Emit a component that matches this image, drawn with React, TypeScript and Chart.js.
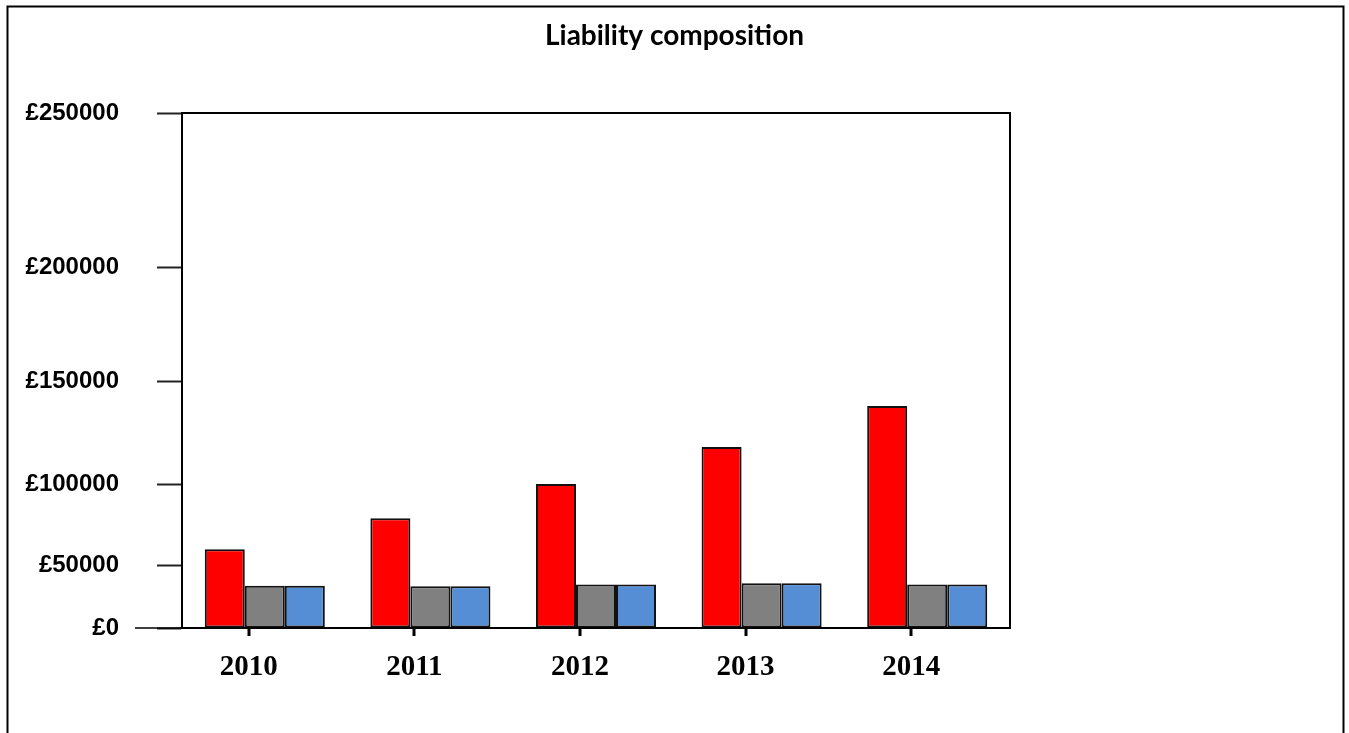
import { useEffect, useRef } from 'react';
import { Chart, registerables, LinearScale } from 'chart.js';

Chart.register(...registerables);

// ---- data ----
const years = ['2010', '2011', '2012', '2013', '2014'];
const redValues = [60000, 79000, 100000, 118000, 138000];
const greyValues = [34000, 33500, 35000, 36000, 35000];
const blueValues = [34000, 33500, 35000, 36000, 35000];
const yTickStep = 50000;
const yMax = 250000;

// The value axis is drawn with unevenly spaced gridlines: each [value, fraction]
// pair pins a value to a fraction of the plot height, linear in between.
const Y_AXIS_STOPS: [number, number][] = [
  [0, 0],
  [50000, 0.121],
  [100000, 0.2796],
  [150000, 0.4788],
  [200000, 0.7],
  [250000, 1],
];

class StretchedScale extends LinearScale {
  static id = 'stretched';
  static defaults = LinearScale.defaults;

  getPixelForValue(value: number) {
    const s = Y_AXIS_STOPS;
    let frac: number;
    if (value <= s[0][0]) {
      frac = s[0][1];
    } else if (value >= s[s.length - 1][0]) {
      frac = s[s.length - 1][1];
    } else {
      let i = 1;
      while (value > s[i][0]) i++;
      const [v0, f0] = s[i - 1];
      const [v1, f1] = s[i];
      frac = f0 + ((value - v0) / (v1 - v0)) * (f1 - f0);
    }
    return this.getPixelForDecimal(frac);
  }

  getValueForPixel(pixel: number) {
    const frac = this.getDecimalForPixel(pixel);
    const s = Y_AXIS_STOPS;
    for (let i = 1; i < s.length; i++) {
      if (frac <= s[i][1]) {
        const [v0, f0] = s[i - 1];
        const [v1, f1] = s[i];
        return v0 + ((frac - f0) / (f1 - f0)) * (v1 - v0);
      }
    }
    return s[s.length - 1][0];
  }
}
Chart.register(StretchedScale);

const X_LABEL_SHIFT = -16;

const framePlugin = {
  id: 'frame',
  beforeDraw(chart: any) {
    const { ctx, width, height } = chart;
    ctx.save();
    ctx.fillStyle = '#ffffff';
    ctx.fillRect(0, 0, width, height);
    ctx.restore();
  },
  afterDraw(chart: any) {
    const { ctx, chartArea, scales } = chart;
    const { left, right, top, bottom } = chartArea;
    ctx.save();
    ctx.strokeStyle = '#000';
    ctx.lineWidth = 2;
    // outer border
    ctx.strokeRect(7.5, 6.5, 1336, 760);
    // top and right edges of the plot box
    ctx.beginPath();
    ctx.moveTo(left, top);
    ctx.lineTo(right, top);
    ctx.lineTo(right, bottom);
    ctx.stroke();
    // baseline runs past the axis to the left
    ctx.lineWidth = 1.5;
    ctx.beginPath();
    ctx.moveTo(left - 47, bottom);
    ctx.lineTo(left, bottom);
    ctx.stroke();
    // small tick marks under each year label
    ctx.fillStyle = '#000';
    years.forEach((_, i) => {
      const x = scales.x.getPixelForValue(i) + X_LABEL_SHIFT;
      ctx.fillRect(Math.round(x) - 1.5, bottom, 3, 8);
    });
    ctx.restore();
  },
};

export default function App() {
  const canvasRef = useRef<HTMLCanvasElement | null>(null);

  useEffect(() => {
    const canvas = canvasRef.current;
    if (!canvas) return;
    const chart = new Chart(canvas, {
      type: 'bar',
      data: {
        labels: years,
        datasets: [
          {
            label: 'Red',
            data: redValues,
            backgroundColor: '#ff0000',
            borderColor: '#111',
            borderWidth: 2,
            borderSkipped: false,
          },
          {
            label: 'Grey',
            data: greyValues,
            backgroundColor: '#808080',
            borderColor: '#111',
            borderWidth: 2,
            borderSkipped: false,
          },
          {
            label: 'Blue',
            data: blueValues,
            backgroundColor: '#558ed5',
            borderColor: '#111',
            borderWidth: 2,
            borderSkipped: false,
          },
        ],
      },
      options: {
        responsive: false,
        animation: false,
        events: [],
        datasets: {
          bar: { categoryPercentage: 0.725, barPercentage: 1.0 },
        },
        layout: { padding: 0 },
        plugins: {
          legend: { display: false },
          tooltip: { enabled: false },
          title: {
            display: true,
            text: 'Liability composition',
            color: '#000',
            font: { family: 'Lato, "Open Sans", sans-serif', size: 28, weight: 'bold', lineHeight: 1.2 },
            padding: { top: 19, bottom: 60.4 },
          },
        },
        scales: {
          x: {
            type: 'category',
            grid: { display: false },
            border: { display: true, color: '#000', width: 2 },
            ticks: {
              color: '#000',
              font: { family: '"Liberation Serif", "Times New Roman", serif', size: 29, weight: 'bold' },
              padding: 14,
              labelOffset: X_LABEL_SHIFT,
              maxRotation: 0,
            },
            afterFit: (scale: any) => {
              scale.height = 105;
            },
          },
          y: {
            type: 'stretched' as any,
            min: 0,
            max: yMax,
            grid: {
              display: true,
              drawOnChartArea: false,
              drawTicks: true,
              tickLength: 25,
              tickColor: '#222',
              tickWidth: 2,
            },
            border: { display: true, color: '#000', width: 2 },
            ticks: {
              stepSize: yTickStep,
              color: '#000',
              padding: 38,
              font: { family: '"Liberation Sans", Arial, sans-serif', size: 24, weight: 'bold' },
              callback: (v: any) => '£' + v,
            },
            afterFit: (scale: any) => {
              scale.width = 182;
            },
          },
          spacer: {
            type: 'linear',
            position: 'right',
            display: true,
            grid: { display: false },
            border: { display: false },
            ticks: { display: false },
            afterFit: (scale: any) => {
              scale.width = 339;
            },
          },
        },
      },
      plugins: [framePlugin],
    });
    return () => chart.destroy();
  }, []);

  return (
    <canvas
      ref={canvasRef}
      width={1349}
      height={733}
      style={{ position: 'fixed', left: 0, top: 0, display: 'block' }}
    />
  );
}
